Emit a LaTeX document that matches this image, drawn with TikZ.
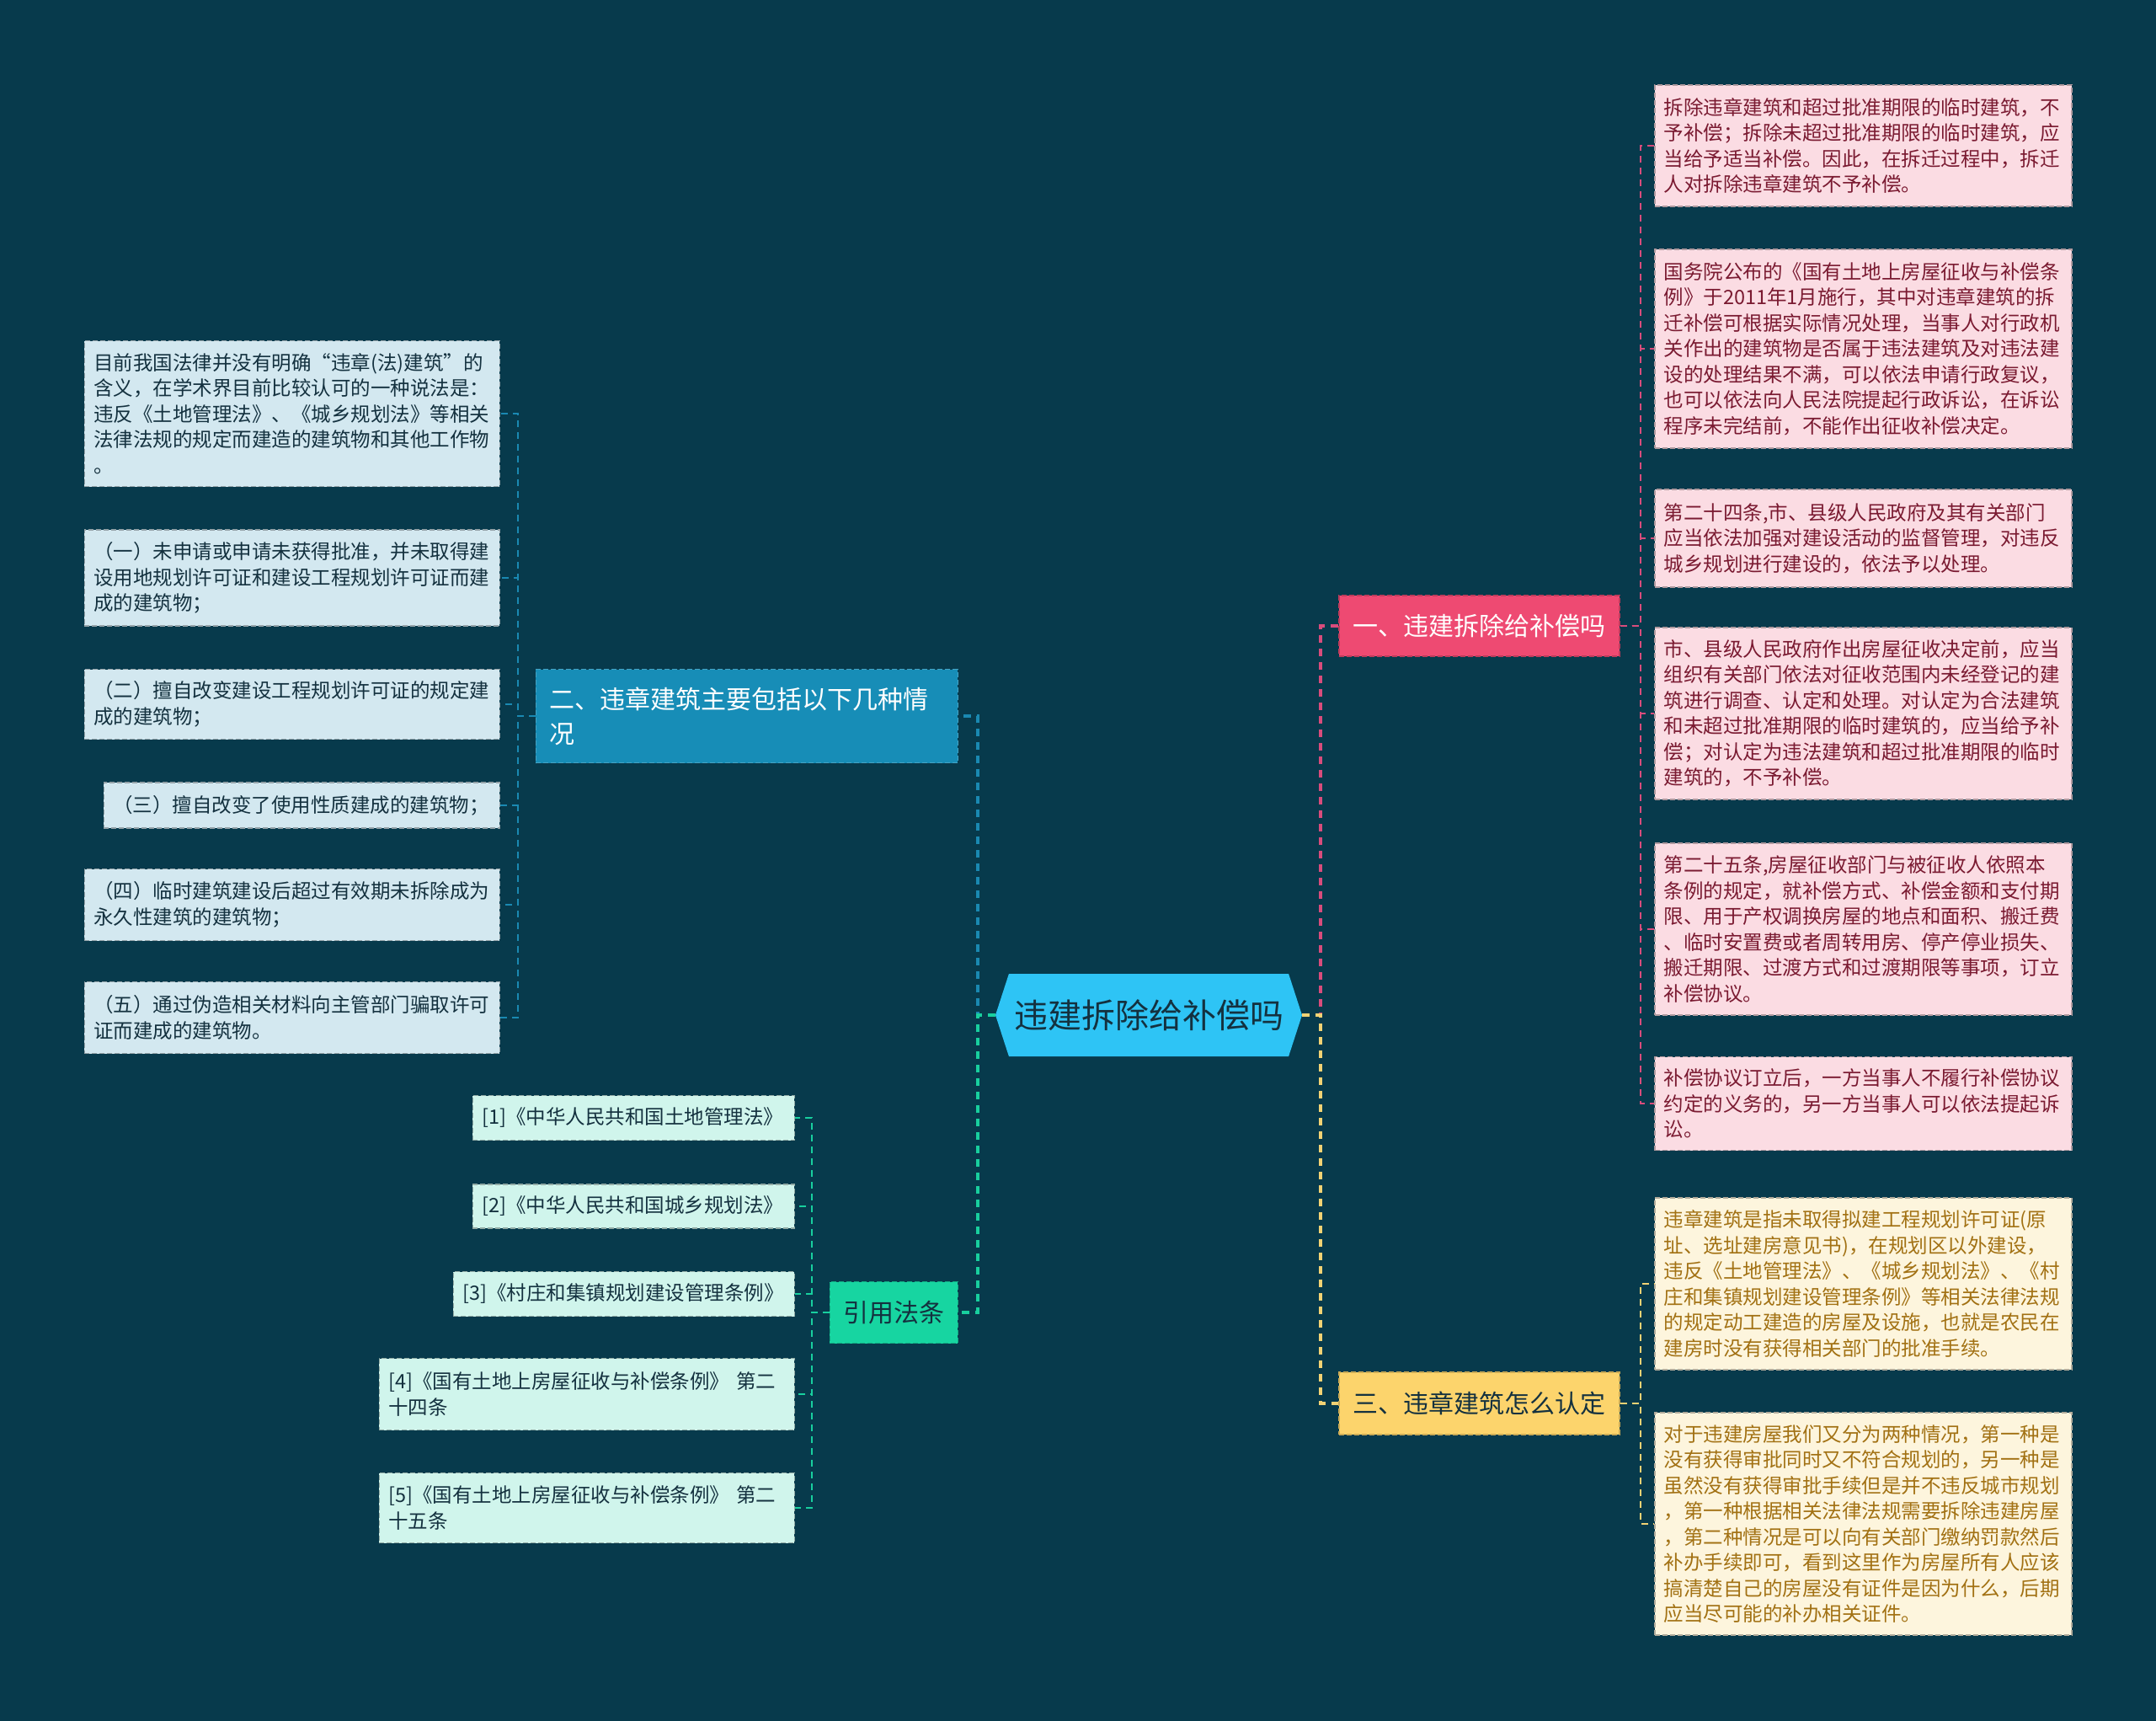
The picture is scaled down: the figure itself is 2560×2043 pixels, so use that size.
\documentclass[tikz,border=0pt]{standalone}
\usepackage{fontspec}
\setmainfont{Noto Sans CJK SC}
\usepackage{xcolor}
\usepackage{tikz}
\usetikzlibrary{shapes.symbols}

\definecolor{bgcol}{HTML}{073A4C}
\definecolor{rootfill}{HTML}{2EC4F5}
\definecolor{darktext}{HTML}{14313F}
\definecolor{pinktopic}{HTML}{EE4A72}
\definecolor{bluetopic}{HTML}{178DB7}
\definecolor{greentopic}{HTML}{17D5A1}
\definecolor{yellowtopic}{HTML}{FCD46C}
\definecolor{pinkfill}{HTML}{FBDCE3}
\definecolor{pinktext}{HTML}{7A1A31}
\definecolor{bluefill}{HTML}{D3E8F0}
\definecolor{greenfill}{HTML}{D0F5EC}
\definecolor{yellowfill}{HTML}{FDF5DD}
\definecolor{yellowtext}{HTML}{A27113}
\definecolor{pinkln}{HTML}{D94C7C}
\definecolor{blueln}{HTML}{1A89B2}
\definecolor{greenln}{HTML}{18CF9E}
\definecolor{yellowln}{HTML}{F2D274}

\begin{document}
\begin{tikzpicture}[
  x=1pt, y=-1pt,
  every node/.style={align=left},
  root/.style={signal, signal to=west and east, signal pointer angle=144,
               fill=rootfill, text=darktext, minimum width=364pt,
               minimum height=98pt, inner sep=0pt, align=center,
               font=\fontsize{40}{46}\selectfont},
  topic/.style={rectangle, dash pattern=on 6pt off 3pt, line width=1.5pt,
                inner xsep=16pt, inner ysep=0pt,
                font=\fontsize{30}{41}\selectfont},
  leaf/.style={rectangle, dash pattern=on 6pt off 3pt, line width=1.5pt,
               inner xsep=11pt, inner ysep=0pt,
               font=\fontsize{23.5}{30.5}\selectfont},
  pinkleaf/.style={leaf, fill=pinkfill, draw=pinkfill!70!black,
                   text=pinktext, anchor=west, text width=473pt},
  yellowleaf/.style={leaf, fill=yellowfill, draw=yellowfill!70!black,
                     text=yellowtext, anchor=west, text width=473pt},
  blueleaf/.style={leaf, fill=bluefill, draw=bluefill!70!black,
                   text=darktext, anchor=east},
  greenleaf/.style={leaf, fill=greenfill, draw=greenfill!70!black,
                    text=darktext, anchor=east},
  lnk/.style={line width=3.5pt, dash pattern=on 9pt off 7pt},
  sublnk/.style={line width=2pt, dash pattern=on 8pt off 6pt}
]

% ---- Background ----
\fill[bgcol] (0,0) rectangle (2560,2043);

% ---- Root ----
\node[root] (root) at (1364,1205) {违建拆除给补偿吗};

% ---- Topics ----
\node[topic, fill=pinktopic, draw=pinktopic!80!black, text=white,
      anchor=west, minimum width=333pt, minimum height=72pt, align=center]
      (t1) at (1589,743) {一、违建拆除给补偿吗};
\node[topic, fill=bluetopic, draw=bluetopic!80!white, text=white,
      anchor=east, text width=469pt, minimum height=111pt]
      (t2) at (1138,850) {二、违章建筑主要包括以下几种情\\况};
\node[topic, fill=greentopic, draw=greentopic!80!black, text=darktext,
      anchor=east, minimum width=152pt, minimum height=73pt, align=center]
      (t3) at (1138,1558) {引用法条};
\node[topic, fill=yellowtopic, draw=yellowtopic!80!black, text=darktext,
      anchor=west, minimum width=333pt, minimum height=74pt, align=center]
      (t4) at (1589,1666) {三、违章建筑怎么认定};

\draw[lnk, pinkln]   (root.east) -- ++(22,0) |- (t1.west);
\draw[lnk, yellowln] (root.east) -- ++(22,0) |- (t4.west);
\draw[lnk, blueln]   (root.west) -- ++(-21,0) |- (t2.east);
\draw[lnk, greenln]  (root.west) -- ++(-21,0) |- (t3.east);

% ---- Pink leaves (right, top) ----
\node[pinkleaf, minimum height=144pt] (p1) at (1964,173)
  {拆除违章建筑和超过批准期限的临时建筑，不\\予补偿；拆除未超过批准期限的临时建筑，应\\当给予适当补偿。因此，在拆迁过程中，拆迁\\人对拆除违章建筑不予补偿。};
\node[pinkleaf, minimum height=236pt] (p2) at (1964,414)
  {国务院公布的《国有土地上房屋征收与补偿条\\例》于2011年1月施行，其中对违章建筑的拆\\迁补偿可根据实际情况处理，当事人对行政机\\关作出的建筑物是否属于违法建筑及对违法建\\设的处理结果不满，可以依法申请行政复议，\\也可以依法向人民法院提起行政诉讼，在诉讼\\程序未完结前，不能作出征收补偿决定。};
\node[pinkleaf, minimum height=116pt] (p3) at (1964,639)
  {第二十四条,市、县级人民政府及其有关部门\\应当依法加强对建设活动的监督管理，对违反\\城乡规划进行建设的，依法予以处理。};
\node[pinkleaf, minimum height=204pt] (p4) at (1964,847)
  {市、县级人民政府作出房屋征收决定前，应当\\组织有关部门依法对征收范围内未经登记的建\\筑进行调查、认定和处理。对认定为合法建筑\\和未超过批准期限的临时建筑的，应当给予补\\偿；对认定为违法建筑和超过批准期限的临时\\建筑的，不予补偿。};
\node[pinkleaf, minimum height=204pt] (p5) at (1964,1103)
  {第二十五条,房屋征收部门与被征收人依照本\\条例的规定，就补偿方式、补偿金额和支付期\\限、用于产权调换房屋的地点和面积、搬迁费\\、临时安置费或者周转用房、停产停业损失、\\搬迁期限、过渡方式和过渡期限等事项，订立\\补偿协议。};
\node[pinkleaf, minimum height=111pt] (p6) at (1964,1310)
  {补偿协议订立后，一方当事人不履行补偿协议\\约定的义务的，另一方当事人可以依法提起诉\\讼。};

\foreach \n in {p1,p2,p3,p4,p5,p6}
  \draw[sublnk, pinkln] (t1.east) -- ++(24,0) |- (\n.west);

% ---- Yellow leaves (right, bottom) ----
\node[yellowleaf, minimum height=204pt] (y1) at (1964,1524)
  {违章建筑是指未取得拟建工程规划许可证(原\\址、选址建房意见书)，在规划区以外建设，\\违反《土地管理法》、《城乡规划法》、《村\\庄和集镇规划建设管理条例》等相关法律法规\\的规定动工建造的房屋及设施，也就是农民在\\建房时没有获得相关部门的批准手续。};
\node[yellowleaf, minimum height=264pt] (y2) at (1964,1809)
  {对于违建房屋我们又分为两种情况，第一种是\\没有获得审批同时又不符合规划的，另一种是\\虽然没有获得审批手续但是并不违反城市规划\\，第一种根据相关法律法规需要拆除违建房屋\\，第二种情况是可以向有关部门缴纳罚款然后\\补办手续即可，看到这里作为房屋所有人应该\\搞清楚自己的房屋没有证件是因为什么，后期\\应当尽可能的补办相关证件。};

\foreach \n in {y1,y2}
  \draw[sublnk, yellowln] (t4.east) -- ++(24,0) |- (\n.west);

% ---- Blue leaves (left, top) ----
\node[blueleaf, text width=471pt, minimum height=173pt] (b1) at (594,491)
  {目前我国法律并没有明确“违章(法)建筑”的\\含义，在学术界目前比较认可的一种说法是：\\违反《土地管理法》、《城乡规划法》等相关\\法律法规的规定而建造的建筑物和其他工作物\\。};
\node[blueleaf, text width=471pt, minimum height=114pt] (b2) at (594,686)
  {（一）未申请或申请未获得批准，并未取得建\\设用地规划许可证和建设工程规划许可证而建\\成的建筑物；};
\node[blueleaf, text width=471pt, minimum height=83pt] (b3) at (594,836)
  {（二）擅自改变建设工程规划许可证的规定建\\成的建筑物；};
\node[blueleaf, text width=448pt, minimum height=54pt] (b4) at (594,956)
  {（三）擅自改变了使用性质建成的建筑物；};
\node[blueleaf, text width=471pt, minimum height=85pt] (b5) at (594,1074)
  {（四）临时建筑建设后超过有效期未拆除成为\\永久性建筑的建筑物；};
\node[blueleaf, text width=471pt, minimum height=85pt] (b6) at (594,1208)
  {（五）通过伪造相关材料向主管部门骗取许可\\证而建成的建筑物。};

\foreach \n in {b1,b2,b3,b4,b5,b6}
  \draw[sublnk, blueln] (t2.west) -- ++(-21,0) |- (\n.east);

% ---- Green leaves (left, bottom) ----
\node[greenleaf, text width=360pt, minimum height=53pt] (g1) at (944,1327)
  {[1]《中华人民共和国土地管理法》};
\node[greenleaf, text width=360pt, minimum height=52pt] (g2) at (944,1432)
  {[2]《中华人民共和国城乡规划法》};
\node[greenleaf, text width=383pt, minimum height=53pt] (g3) at (944,1536)
  {[3]《村庄和集镇规划建设管理条例》};
\node[greenleaf, text width=471pt, minimum height=85pt] (g4) at (944,1655)
  {[4]《国有土地上房屋征收与补偿条例》 第二\\十四条};
\node[greenleaf, text width=471pt, minimum height=83pt] (g5) at (944,1790)
  {[5]《国有土地上房屋征收与补偿条例》 第二\\十五条};

\foreach \n in {g1,g2,g3,g4,g5}
  \draw[sublnk, greenln] (t3.west) -- ++(-21,0) |- (\n.east);

\end{tikzpicture}
\end{document}
